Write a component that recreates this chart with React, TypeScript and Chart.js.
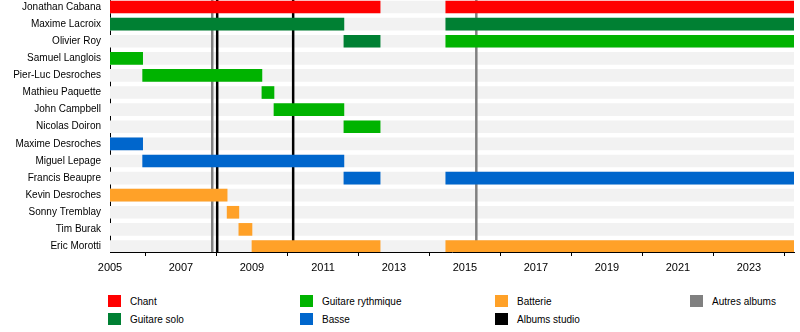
import React, { useEffect, useRef } from "react";
import { Chart, registerables } from "chart.js";

Chart.register(...registerables);

// ---------- data ----------
const ROWS = [
  "Jonathan Cabana",
  "Maxime Lacroix",
  "Olivier Roy",
  "Samuel Langlois",
  "Pier-Luc Desroches",
  "Mathieu Paquette",
  "John Campbell",
  "Nicolas Doiron",
  "Maxime Desroches",
  "Miguel Lepage",
  "Francis Beaupre",
  "Kevin Desroches",
  "Sonny Tremblay",
  "Tim Burak",
  "Eric Morotti",
];

const START_YEAR = 2005;
const END_YEAR = 2024.27;
const YEAR_TICKS = [2005, 2006, 2007, 2008, 2009, 2010, 2011, 2012, 2013, 2014, 2015, 2016, 2017, 2018, 2019, 2020, 2021, 2022, 2023, 2024];

type Span = [string, number, number];

const CHANT: Span[] = [
  ["Jonathan Cabana", 2005, 2012.61],
  ["Jonathan Cabana", 2014.46, END_YEAR],
];
const GUITARE_SOLO: Span[] = [
  ["Maxime Lacroix", 2005, 2011.59],
  ["Maxime Lacroix", 2014.46, END_YEAR],
  ["Olivier Roy", 2011.59, 2012.61],
];
const GUITARE_RYTHMIQUE: Span[] = [
  ["Olivier Roy", 2014.46, END_YEAR],
  ["Samuel Langlois", 2005, 2005.92],
  ["Pier-Luc Desroches", 2005.92, 2009.28],
  ["Mathieu Paquette", 2009.28, 2009.62],
  ["John Campbell", 2009.62, 2011.59],
  ["Nicolas Doiron", 2011.59, 2012.61],
];
const BASSE: Span[] = [
  ["Maxime Desroches", 2005, 2005.92],
  ["Miguel Lepage", 2005.92, 2011.59],
  ["Francis Beaupre", 2011.59, 2012.61],
  ["Francis Beaupre", 2014.46, END_YEAR],
];
const BATTERIE: Span[] = [
  ["Kevin Desroches", 2005, 2008.3],
  ["Sonny Tremblay", 2008.3, 2008.63],
  ["Tim Burak", 2008.63, 2009.0],
  ["Eric Morotti", 2009.0, 2012.61],
  ["Eric Morotti", 2014.46, END_YEAR],
];
const ALBUMS_STUDIO = [2008.02, 2010.16];
const AUTRES_ALBUMS = [2007.88, 2015.32];

// ---------- styles ----------
const COLORS: Record<string, string> = {
  Chant: "#ff0000",
  "Guitare solo": "#008033",
  "Guitare rythmique": "#00b300",
  Basse: "#0066cc",
  Batterie: "#ffa128",
  "Albums studio": "#000000",
  "Autres albums": "#808080",
  band: "#f2f2f2",
};

const LEGEND_ORDER = [
  "Chant",
  "Guitare solo",
  "Guitare rythmique",
  "Basse",
  "Batterie",
  "Albums studio",
  "Autres albums",
];

const FONT = "'Liberation Sans', Arial, sans-serif";

function toPoints(spans: Span[]) {
  return spans.map(([name, a, b]) => ({ x: [a, b], y: ROWS.indexOf(name) }));
}

const vlinePlugin = {
  id: "albumLines",
  afterDatasetDraw(chart: any, args: any) {
    if (args.meta.index !== chart.data.datasets.length - 1) return;
    const { ctx, chartArea, scales } = chart;
    const draw = (years: number[], color: string) => {
      ctx.save();
      ctx.strokeStyle = color;
      ctx.lineWidth = 2.5;
      years.forEach((yr) => {
        const x = scales.x.getPixelForValue(yr);
        ctx.beginPath();
        ctx.moveTo(x, chartArea.top);
        ctx.lineTo(x, chartArea.bottom);
        ctx.stroke();
      });
      ctx.restore();
    };
    draw(AUTRES_ALBUMS, COLORS["Autres albums"]);
    draw(ALBUMS_STUDIO, COLORS["Albums studio"]);
  },
};

export default function App() {
  const ref = useRef<HTMLCanvasElement | null>(null);

  useEffect(() => {
    if (!ref.current) return;
    const roleSets: [string, Span[]][] = [
      ["Chant", CHANT],
      ["Guitare solo", GUITARE_SOLO],
      ["Guitare rythmique", GUITARE_RYTHMIQUE],
      ["Basse", BASSE],
      ["Batterie", BATTERIE],
    ];
    const datasets: any[] = roleSets.map(([label, spans]) => ({
      label,
      data: toPoints(spans),
      backgroundColor: COLORS[label],
      borderWidth: 0,
      barThickness: 12,
      maxBarThickness: 12,
      grouped: false,
      order: 1,
    }));
    datasets.push({
      label: "band",
      data: ROWS.map((_, i) => ({ x: [START_YEAR, END_YEAR], y: i })),
      backgroundColor: COLORS.band,
      borderWidth: 0,
      barThickness: 12,
      maxBarThickness: 12,
      grouped: false,
      order: 5,
    });

    const chart = new Chart(ref.current, {
      type: "bar",
      data: { datasets },
      plugins: [vlinePlugin],
      options: {
        indexAxis: "y",
        animation: false,
        responsive: false,
        maintainAspectRatio: false,
        layout: { padding: { left: 0, right: 6, top: 0, bottom: 0 } },
        plugins: { legend: { display: false }, tooltip: { enabled: false } },
        scales: {
          y: {
            type: "linear",
            reverse: true,
            offset: false,
            min: -0.409,
            max: 14.322,
            afterBuildTicks: (scale: any) => {
              scale.ticks = ROWS.map((_, i) => ({ value: i }));
            },
            afterFit: (scale: any) => {
              scale.width = 110;
              scale.paddingTop = 0;
              scale.paddingBottom = 0;
            },
            grid: { display: false, drawTicks: false, offset: false },
            border: { display: true, color: "#000", width: 1 },
            ticks: {
              padding: 9,
              color: "#000",
              font: { family: FONT, size: 10 },
              callback: (v: any) => ROWS[Math.round(Number(v))] ?? "",
            },
          },
          x: {
            type: "linear",
            offset: false,
            min: START_YEAR,
            max: END_YEAR,
            afterBuildTicks: (scale: any) => {
              scale.ticks = YEAR_TICKS.map((v) => ({ value: v }));
            },
            afterFit: (scale: any) => {
              scale.height = 28;
              scale.paddingLeft = 0;
              scale.paddingRight = 0;
            },
            grid: {
              display: true,
              drawOnChartArea: false,
              drawTicks: true,
              tickLength: 4,
              color: (ctx: any) =>
                ctx.tick && ctx.tick.value % 2 === 0 ? "#000" : "rgba(0,0,0,0)",
            },
            border: { display: true, color: "#000", width: 1 },
            ticks: {
              padding: 5,
              color: "#000",
              autoSkip: false,
              maxRotation: 0,
              font: { family: FONT, size: 11 },
              callback: (v: any) => (Number(v) % 2 === 1 ? String(v) : ""),
            },
          },
        },
      } as any,
    });
    return () => chart.destroy();
  }, []);

  const col = (i: number) => Math.floor(i / 2);
  const row = (i: number) => i % 2;
  const colX = [108, 300, 495, 690];
  const rowY = [295, 313];

  return (
    <div
      style={{
        position: "fixed",
        left: 0,
        top: 0,
        width: 800,
        height: 332,
        background: "#fff",
        fontFamily: FONT,
      }}
    >
      <canvas ref={ref} width={800} height={280} style={{ position: "absolute", left: 0, top: 0, width: 800, height: 280 }} />
      {LEGEND_ORDER.map((label, i) => (
        <div
          key={label}
          style={{
            position: "absolute",
            left: colX[col(i)],
            top: rowY[row(i)],
            height: 12,
            display: "flex",
            alignItems: "center",
            fontSize: 10,
            color: "#000",
            whiteSpace: "nowrap",
          }}
        >
          <span style={{ display: "inline-block", width: 13, height: 12, background: COLORS[label], marginRight: 9 }} />
          <span>{label}</span>
        </div>
      ))}
    </div>
  );
}
